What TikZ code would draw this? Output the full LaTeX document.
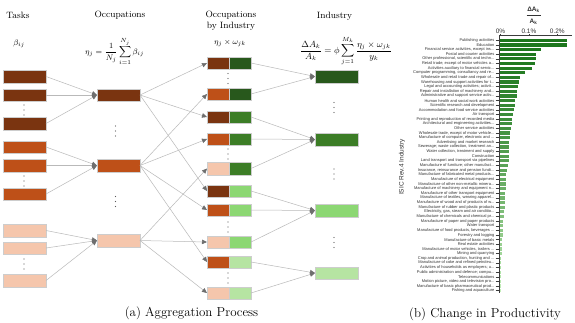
\documentclass[tikz,border=0pt]{standalone}
\usepackage{amsmath}
\usepackage{fontspec}
\newfontfamily\chartfont{Liberation Sans}
\usetikzlibrary{arrows.meta}
\definecolor{taskdark}{RGB}{122,52,16}
\definecolor{taskmid}{RGB}{190,80,24}
\definecolor{tasklight}{RGB}{245,198,172}
\definecolor{indA}{RGB}{40,88,28}
\definecolor{indB}{RGB}{60,125,38}
\definecolor{indC}{RGB}{140,215,115}
\definecolor{indD}{RGB}{182,228,162}
\definecolor{linegray}{RGB}{185,185,185}
\definecolor{headgray}{RGB}{110,110,110}
\definecolor{boxedge}{RGB}{205,205,205}
\definecolor{dotgray}{RGB}{90,90,90}
\definecolor{bardark}{RGB}{28,118,28}
\definecolor{barlight}{RGB}{195,238,185}
\definecolor{axisc}{RGB}{60,60,60}
\definecolor{labc}{RGB}{50,50,50}
\newcommand\tr{...}
\tikzset{
  box/.style={draw=boxedge, line width=0.5bp, minimum width=43bp, minimum height=12.5bp, inner sep=0pt, outer sep=0pt},
  splitbox/.style 2 args={box, minimum width=44bp,
    path picture={
      \fill[#1] (path picture bounding box.south west) rectangle (path picture bounding box.north);
      \fill[#2] (path picture bounding box.south) rectangle (path picture bounding box.north east);
      \draw[boxedge, line width=0.5bp] (path picture bounding box.south) -- (path picture bounding box.north);}},
  conn/.style={draw=linegray, line width=0.5bp, -{Triangle[length=5bp,width=4.5bp,color=headgray,fill=headgray]}},
  hdr/.style={font=\fontsize{9.2}{10.5}\selectfont, inner sep=0pt, align=center},
  frm/.style={font=\fontsize{8.5}{10}\selectfont, inner sep=0pt},
  captxt/.style={font=\fontsize{13}{15}\selectfont, inner sep=0pt},
  lab/.style={font=\chartfont\fontsize{4}{4.5}\selectfont, text=labc, inner sep=0pt, anchor=east},
  ticktxt/.style={font=\chartfont\fontsize{6.5}{7}\selectfont, text=labc, inner sep=0pt},
  ax/.style={draw=axisc, line width=0.8bp}
}
\newcommand\mydots[2]{\foreach \dd in {-5,0,5} {\fill[dotgray] (#1,#2+\dd) circle (0.7bp);}}
\begin{document}
\begin{tikzpicture}[x=1bp,y=-1bp]
\useasboundingbox[fill=white] (0,0) rectangle (575,322);
% headers
\node[hdr] (hTasks) at (18,15.5) {Tasks};
\node[hdr] (hOcc) at (120,15.5) {Occupations};
\node[hdr] (hOxI) at (231,20.5) {Occupations\\by Industry};
\node[hdr] (hInd) at (334.5,16) {Industry};
\node[frm] (fBeta) at (19,44) {$\beta_{ij}$};
\node[frm, anchor=west] (fEta) at (85,51.5) {$\eta_j=\dfrac{1}{N_j}\displaystyle\sum_{i=1}^{N_j}\beta_{ij}$};
\node[frm] (fEw) at (230,43) {$\eta_j\times\omega_{jk}$};
\node[frm, font=\fontsize{8.8}{10}\selectfont, anchor=west] (fDA) at (300,51) {$\dfrac{\Delta A_k}{A_k}=\phi\displaystyle\sum_{j=1}^{M_k}\dfrac{\eta_j\times\omega_{jk}}{y_k}$};
% tasks
\node[box, fill=taskdark] (t1) at (24.5,76.5) {};
\node[box, fill=taskdark] (t2) at (24.5,95) {};
\node[box, fill=taskdark] (t3) at (24.5,123.5) {};
\node[box, fill=taskmid] (t4) at (24.5,147) {};
\node[box, fill=taskmid] (t5) at (24.5,165.5) {};
\node[box, fill=taskmid] (t6) at (24.5,194) {};
\node[box, fill=tasklight] (t7) at (24.5,230.5) {};
\node[box, fill=tasklight] (t8) at (24.5,248) {};
\node[box, fill=tasklight] (t9) at (24.5,280.5) {};
\mydots{24}{110}
\mydots{24}{181}
\mydots{24}{264}
% occupations
\node[box, fill=taskdark] (o1) at (118.5,95) {};
\node[box, fill=taskmid] (o2) at (118.5,165.5) {};
\node[box, fill=tasklight] (o3) at (118.5,240.5) {};
\mydots{115.5}{131}
\mydots{115.5}{201.5}
% occupations by industry
\node[splitbox={taskdark}{indA}] (x1) at (229,63) {};
\node[splitbox={taskmid}{indA}] (x2) at (229,94) {};
\node[splitbox={taskdark}{indB}] (x3) at (229,117) {};
\node[splitbox={taskmid}{indB}] (x4) at (229,139) {};
\node[splitbox={tasklight}{indB}] (x5) at (229,168.5) {};
\node[splitbox={taskdark}{indC}] (x6) at (229,191) {};
\node[splitbox={taskmid}{indC}] (x7) at (229,210) {};
\node[splitbox={tasklight}{indC}] (x8) at (229,242) {};
\node[splitbox={taskmid}{indD}] (x9) at (229,262) {};
\node[splitbox={tasklight}{indD}] (x10) at (229,293) {};
\mydots{228}{78.5}
\mydots{228}{154}
\mydots{228}{227}
\mydots{228}{278}
% industries
\node[box, fill=indA] (i1) at (336.5,76.5) {};
\node[box, fill=indB] (i2) at (336.5,139.5) {};
\node[box, fill=indC] (i3) at (336.5,210.5) {};
\node[box, fill=indD] (i4) at (336.5,273) {};
\mydots{334}{107.5}
\mydots{334}{174}
\mydots{334}{242.5}
% connectors tasks -> occupations
\foreach \a/\b in {t1/o1,t2/o1,t3/o1,t4/o2,t5/o2,t6/o2,t7/o3,t8/o3,t9/o3}
  \draw[conn] (\a.east) -- (\b.west);
% occupations -> occupations by industry
\foreach \a/\b in {o1/x1,o1/x3,o1/x6,o2/x2,o2/x4,o2/x7,o2/x9,o3/x5,o3/x8,o3/x10}
  \draw[conn] (\a.east) -- (\b.west);
% occupations by industry -> industry
\foreach \a/\b in {x1/i1,x2/i1,x3/i2,x4/i2,x5/i2,x6/i3,x7/i3,x8/i3,x9/i4,x10/i4}
  \draw[conn] (\a.east) -- (\b.west);
% captions
\node[captxt] (capA) at (191.5,313) {(a) Aggregation Process};
\node[captxt] (capB) at (485,314) {(b) Change in Productivity};
% chart
\node[font=\chartfont\bfseries\fontsize{6.5}{7}\selectfont, text=labc, inner sep=0pt] (tNum) at (533.5,9.5) {ΔA\textsubscript{k}};
\node[font=\chartfont\bfseries\fontsize{6.5}{7}\selectfont, text=labc, inner sep=0pt] (tDen) at (533.5,21.5) {A\textsubscript{k}};
\draw[labc, line width=0.6bp] (526.5,15) -- (540.5,15);
\node[ticktxt] (k0) at (500.5,31.5) {0\%};
\node[ticktxt] (k1) at (528.9,31.5) {0.1\%};
\node[ticktxt] (k2) at (557.3,31.5) {0.2\%};
\draw[ax] (499,35.8) -- (572,35.8);
\foreach \xx in {500.5,528.9,557.3} \draw[ax] (\xx,34) -- (\xx,35.8);
\draw[ax] (499,35.8) -- (499,293);
\node[font=\chartfont\fontsize{6.5}{7}\selectfont, text=labc, inner sep=0pt, rotate=90] (ylab) at (402,167) {ISIC Rev.4 Industry};
\foreach \v/\l [count=\i] in {
67/Publishing activities,
66.5/Education,
40.5/{Financial service activities, except ins\tr},
35.5/Postal and courier activities,
35.5/{Other professional, scientific and techn\tr},
35/{Retail trade, except of motor vehicles a\tr},
31.5/{Activities auxiliary to financial servic\tr},
24.8/{Computer programming, consultancy and re\tr},
19.8/{Wholesale and retail trade and repair of\tr},
19/{Warehousing and support activities for t\tr},
18.3/{Legal and accounting activities; activit\tr},
17.3/{Repair and installation of machinery and\tr},
16.7/{Administrative and support service activ\tr},
15/Human health and social work activities,
14.7/Scientific research and development,
13.7/Accommodation and food service activities,
13.3/Air transport,
12/Printing and reproduction of recorded media,
11.7/{Architectural and engineering activities\tr},
11.3/Other service activities,
10.3/{Wholesale trade, except of motor vehicle\tr},
9.7/{Manufacture of computer, electronic and \tr},
9.3/Advertising and market research,
9.3/{Sewerage; waste collection, treatment an\tr},
9/{Water collection, treatment and supply},
9/Construction,
8.7/Land transport and transport via pipelines,
8/{Manufacture of furniture; other manufact\tr},
7.3/{Insurance, reinsurance and pension fundi\tr},
6.3/{Manufacture of fabricated metal products\tr},
6/Manufacture of electrical equipment,
5.7/{Manufacture of other non-metallic minera\tr},
5.7/{Manufacture of machinery and equipment n\tr},
5.3/Manufacture of other transport equipment,
5/{Manufacture of textiles, wearing apparel\tr},
4.7/{Manufacture of wood and of products of w\tr},
4.7/Manufacture of rubber and plastic products,
4.3/{Electricity, gas, steam and air conditio\tr},
3.7/{Manufacture of chemicals and chemical pr\tr},
3.3/Manufacture of paper and paper products,
3/Water transport,
2.7/{Manufacture of food products, beverages \tr},
2.7/Forestry and logging,
2.3/Manufacture of basic metals,
2.3/Real estate activities,
2.3/{Manufacture of motor vehicles, trailers \tr},
2/Mining and quarrying,
1/{Crop and animal production, hunting and \tr},
0.7/{Manufacture of coke and refined petroleu\tr},
0.6/{Activities of households as employers; u\tr},
0.5/{Public administration and defence; compu\tr},
0.3/Telecommunications,
0.3/{Motion picture, video and television pro\tr},
0.2/{Manufacture of basic pharmaceutical prod\tr},
0.2/Fishing and aquaculture} {
  \pgfmathsetmacro\yy{40.3+(\i-1)*4.637}
  \pgfmathsetmacro\pc{100-100*((\i-1)/54)^1.4}
  \colorlet{barcol}{bardark!\pc!barlight}
  \fill[barcol] (500,\yy-1.6) rectangle ++(\v,3.2);
  \draw[ax, line width=0.5bp] (495.5,\yy) -- (499,\yy);
  \node[lab] (lab\i) at (494.5,\yy) {\l};
}
\end{tikzpicture}
\end{document}
